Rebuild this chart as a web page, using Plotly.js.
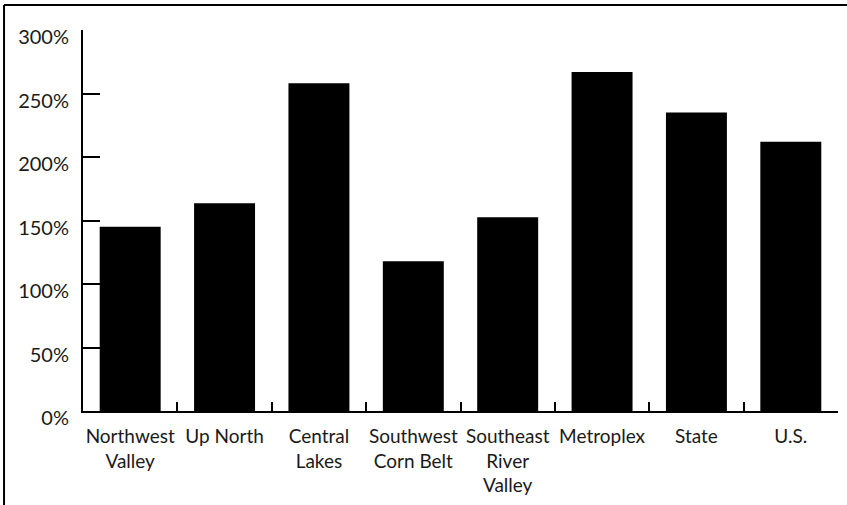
<!DOCTYPE html>
<html>
<head>
<meta charset="utf-8">
<script src="https://cdn.plot.ly/plotly-3.0.1.min.js"></script>
<style>html,body{margin:0;padding:0;background:#fff;}#chart{width:847px;height:505px;}</style>
</head>
<body>
<div id="chart"></div>
<script>
const categories = ["Northwest<br>Valley", "Up North", "Central<br>Lakes", "Southwest<br>Corn Belt", "Southeast<br>River<br>Valley", "Metroplex", "State", "U.S."];
const values = [145, 163.5, 258, 118, 152.5, 267, 235, 212];
const yTickVals = [0, 50, 100, 150, 200, 250, 300];
const yTickText = ["0%", "50%", "100%", "150%", "200%", "250%", "300%"];

const FONT = "Lato, 'Open Sans', sans-serif";
const trace = {
  type: "bar",
  x: categories,
  y: values,
  marker: {color: "#000000", line: {width: 0}},
  hoverinfo: "skip"
};
const layout = {
  width: 847, height: 505,
  margin: {l: 83, r: 9, t: 30, b: 94},
  paper_bgcolor: "#ffffff", plot_bgcolor: "#ffffff",
  font: {family: FONT, size: 19, color: "#1a1a1a"},
  showlegend: false,
  bargap: 0.354,
  xaxis: {
    type: "category",
    showgrid: false, zeroline: false,
    showline: true, linecolor: "#000", linewidth: 2,
    ticks: "inside", tickson: "boundaries", ticklen: 9, tickwidth: 2, tickcolor: "#000",
    tickfont: {family: FONT, size: 19, color: "#1a1a1a"},
    tickangle: 0,
    ticklabelstandoff: 7
  },
  yaxis: {
    range: [0, 300],
    tickvals: yTickVals, ticktext: yTickText,
    showgrid: false, zeroline: false,
    showline: true, linecolor: "#000", linewidth: 2,
    ticks: "inside", ticklen: 17, tickwidth: 2, tickcolor: "#000",
    tickfont: {family: FONT, size: 20, color: "#1a1a1a"},
    ticklabelshift: 7,
    ticklabelstandoff: 8
  },
  shapes: [
    {type: "line", xref: "paper", yref: "paper", x0: -0.1046, x1: 1.05, y0: 1.0656, y1: 1.0656, line: {color: "#000", width: 2}},
    {type: "line", xref: "paper", yref: "paper", x0: -0.1046, x1: -0.1046, y0: 1.0656, y1: -0.3, line: {color: "#000", width: 2}}
  ]
};
Plotly.newPlot("chart", [trace], layout, {displayModeBar: false, staticPlot: true});
</script>
</body>
</html>
